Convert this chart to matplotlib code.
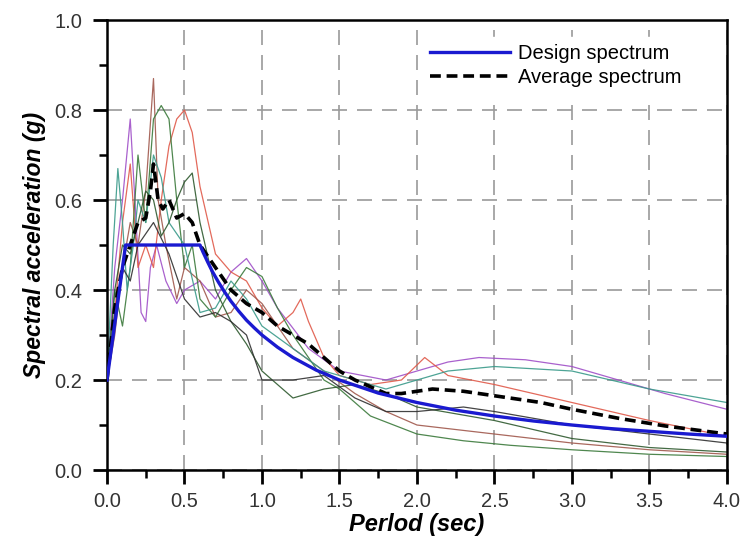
' Response spectra of scaled records vs. design spectrum '

import matplotlib
matplotlib.use('Agg')
import matplotlib.pyplot as plt
from matplotlib.ticker import MultipleLocator

plt.rcParams['font.family'] = ['Liberation Sans', 'DejaVu Sans']

# design spectrum
design_t = [0.0, 0.12, 0.6, 0.62, 0.65, 0.68, 0.72, 0.76, 0.8, 0.85, 0.9, 0.95, 1.0,
            1.1, 1.2, 1.35, 1.5, 1.75, 2.0, 2.25, 2.5, 2.75, 3.0, 3.25, 3.5, 3.75, 4.0]
design_sa = [0.2, 0.5, 0.5, 0.484, 0.462, 0.441, 0.417, 0.395, 0.375, 0.353, 0.333,
             0.316, 0.30, 0.273, 0.25, 0.222, 0.20, 0.171, 0.15, 0.133, 0.12, 0.109,
             0.10, 0.092, 0.086, 0.080, 0.075]

# mean of the records
avg_t = [0.0, 0.05, 0.1, 0.15, 0.2, 0.25, 0.28, 0.3, 0.33, 0.36, 0.4, 0.45, 0.5, 0.55,
         0.6, 0.7, 0.8, 0.9, 1.0, 1.1, 1.2, 1.3, 1.4, 1.5, 1.6, 1.7, 1.8, 1.9, 2.0, 2.1,
         2.3, 2.5, 2.8, 3.0, 3.3, 3.6, 4.0]
avg_sa = [0.2, 0.36, 0.45, 0.5, 0.55, 0.56, 0.62, 0.68, 0.6, 0.58, 0.6, 0.56, 0.57, 0.55,
          0.5, 0.45, 0.4, 0.37, 0.35, 0.32, 0.3, 0.28, 0.25, 0.22, 0.2, 0.185, 0.17, 0.17,
          0.175, 0.18, 0.175, 0.165, 0.15, 0.135, 0.115, 0.098, 0.08]

# individual records: (color, periods, values)
records = [
    ('#a050c8',
     [0, 0.05, 0.1, 0.15, 0.18, 0.22, 0.25, 0.28, 0.32, 0.38, 0.45, 0.5, 0.6, 0.7, 0.8,
      0.9, 1.0, 1.1, 1.3, 1.5, 1.8, 2.0, 2.2, 2.4, 2.7, 3.0, 3.3, 3.6, 4.0],
     [0.2, 0.45, 0.6, 0.78, 0.6, 0.35, 0.33, 0.45, 0.5, 0.42, 0.37, 0.4, 0.42, 0.38, 0.44,
      0.47, 0.42, 0.36, 0.27, 0.22, 0.2, 0.22, 0.24, 0.25, 0.245, 0.23, 0.2, 0.17, 0.135]),
    ('#e05a4a',
     [0, 0.05, 0.1, 0.15, 0.2, 0.25, 0.3, 0.35, 0.4, 0.45, 0.5, 0.55, 0.6, 0.7, 0.8, 0.9,
      1.0, 1.1, 1.2, 1.25, 1.3, 1.4, 1.5, 1.7, 1.9, 2.05, 2.2, 2.5, 3.0, 3.5, 4.0],
     [0.2, 0.35, 0.55, 0.68, 0.45, 0.5, 0.45, 0.6, 0.72, 0.78, 0.8, 0.75, 0.63, 0.48, 0.44,
      0.42, 0.36, 0.32, 0.35, 0.38, 0.33, 0.25, 0.21, 0.19, 0.2, 0.25, 0.21, 0.19, 0.15,
      0.11, 0.075]),
    ('#a0584c',
     [0, 0.05, 0.1, 0.15, 0.2, 0.25, 0.3, 0.33, 0.38, 0.45, 0.5, 0.6, 0.7, 0.8, 0.9, 1.0,
      1.2, 1.4, 1.6, 1.8, 2.0, 2.5, 3.0, 3.5, 4.0],
     [0.2, 0.3, 0.45, 0.55, 0.5, 0.62, 0.87, 0.6, 0.5, 0.38, 0.45, 0.42, 0.34, 0.35, 0.4,
      0.37, 0.27, 0.22, 0.17, 0.13, 0.1, 0.08, 0.06, 0.045, 0.035]),
    ('#3c7a3c',
     [0, 0.05, 0.1, 0.15, 0.2, 0.25, 0.3, 0.35, 0.4, 0.45, 0.5, 0.55, 0.6, 0.7, 0.8, 0.9,
      1.0, 1.1, 1.2, 1.3, 1.4, 1.5, 1.7, 2.0, 2.3, 2.6, 3.0, 3.5, 4.0],
     [0.2, 0.4, 0.32, 0.45, 0.7, 0.55, 0.78, 0.81, 0.78, 0.6, 0.45, 0.5, 0.38, 0.34, 0.4,
      0.45, 0.43, 0.36, 0.3, 0.25, 0.2, 0.18, 0.12, 0.08, 0.065, 0.055, 0.045, 0.035, 0.03]),
    ('#3a9a8a',
     [0, 0.04, 0.07, 0.1, 0.13, 0.17, 0.2, 0.25, 0.3, 0.35, 0.4, 0.5, 0.6, 0.7, 0.8, 0.9,
      1.0, 1.2, 1.4, 1.6, 1.8, 2.0, 2.2, 2.5, 3.0, 3.5, 4.0],
     [0.2, 0.5, 0.67, 0.55, 0.4, 0.5, 0.6, 0.55, 0.7, 0.65, 0.55, 0.5, 0.35, 0.36, 0.42,
      0.38, 0.32, 0.27, 0.22, 0.2, 0.18, 0.2, 0.22, 0.23, 0.22, 0.18, 0.15]),
    ('#2f5a2f',
     [0, 0.05, 0.1, 0.15, 0.2, 0.25, 0.3, 0.35, 0.4, 0.45, 0.5, 0.55, 0.6, 0.7, 0.8, 0.9,
      1.0, 1.2, 1.4, 1.6, 1.8, 2.0, 2.5, 3.0, 3.5, 4.0],
     [0.2, 0.4, 0.5, 0.48, 0.55, 0.62, 0.6, 0.52, 0.55, 0.6, 0.64, 0.66, 0.55, 0.4, 0.33,
      0.28, 0.22, 0.16, 0.18, 0.19, 0.17, 0.14, 0.11, 0.07, 0.05, 0.04]),
    ('#303030',
     [0, 0.05, 0.1, 0.15, 0.2, 0.3, 0.4, 0.5, 0.6, 0.7, 0.8, 0.9, 1.0, 1.2, 1.4, 1.6, 1.8,
      2.0, 2.3, 2.5, 3.0, 3.5, 4.0],
     [0.2, 0.35, 0.45, 0.42, 0.5, 0.55, 0.48, 0.38, 0.34, 0.35, 0.33, 0.3, 0.2, 0.2, 0.21,
      0.16, 0.13, 0.13, 0.14, 0.13, 0.1, 0.08, 0.06]),
]


def main():
    fig = plt.figure(figsize=(7.41, 5.41), dpi=100)
    ax = fig.add_axes([0.1444, 0.1312, 0.8366, 0.8318])

    for color, t, sa in records:
        ax.plot(t, sa, color=color, linewidth=0.9, alpha=0.9)

    ax.plot(avg_t, avg_sa, color='black', linewidth=2.6, dashes=(3, 1.6),
            label='Average spectrum', zorder=4)
    ax.plot(design_t, design_sa, color='#1a1ad0', linewidth=2.4,
            label='Design spectrum', zorder=5)

    ax.set_xlim(0, 4.0)
    ax.set_ylim(0, 1.0)
    ax.xaxis.set_major_locator(MultipleLocator(0.5))
    ax.xaxis.set_minor_locator(MultipleLocator(0.25))
    ax.yaxis.set_major_locator(MultipleLocator(0.2))
    ax.yaxis.set_minor_locator(MultipleLocator(0.1))
    ax.xaxis.set_major_formatter(plt.FormatStrFormatter('%.1f'))
    ax.yaxis.set_major_formatter(plt.FormatStrFormatter('%.1f'))
    ax.tick_params(which='major', direction='out', length=10, width=2.0,
                   labelsize=14.5, colors='black', labelcolor='#333333')
    ax.tick_params(axis='x', which='major', pad=6)
    ax.tick_params(axis='y', which='major', pad=8)
    ax.tick_params(which='minor', direction='out', length=6, width=1.8)
    for spine in ax.spines.values():
        spine.set_linewidth(1.8)

    ax.grid(True, which='major', color='#9a9a9a', linestyle=(0, (9, 6)), linewidth=1.2)

    ax.set_xlabel('Perlod (sec)', fontsize=17, fontweight='bold', style='italic', labelpad=1)
    ax.set_ylabel('Spectral acceleration (g)', fontsize=16.5, fontweight='bold',
                  style='italic', labelpad=6)

    handles, labels = ax.get_legend_handles_labels()
    leg = ax.legend(handles[::-1], labels[::-1], loc='upper right',
                    bbox_to_anchor=(0.955, 0.985), fontsize=14.5, frameon=True,
                    handlelength=4.0, handletextpad=0.4, borderpad=0.35,
                    labelspacing=0.25, fancybox=False)
    leg.get_frame().set_edgecolor('white')
    leg.get_frame().set_facecolor('white')
    leg.get_frame().set_alpha(1.0)

    fig.savefig('out.png', dpi=100)


if __name__ == '__main__':
    main()
